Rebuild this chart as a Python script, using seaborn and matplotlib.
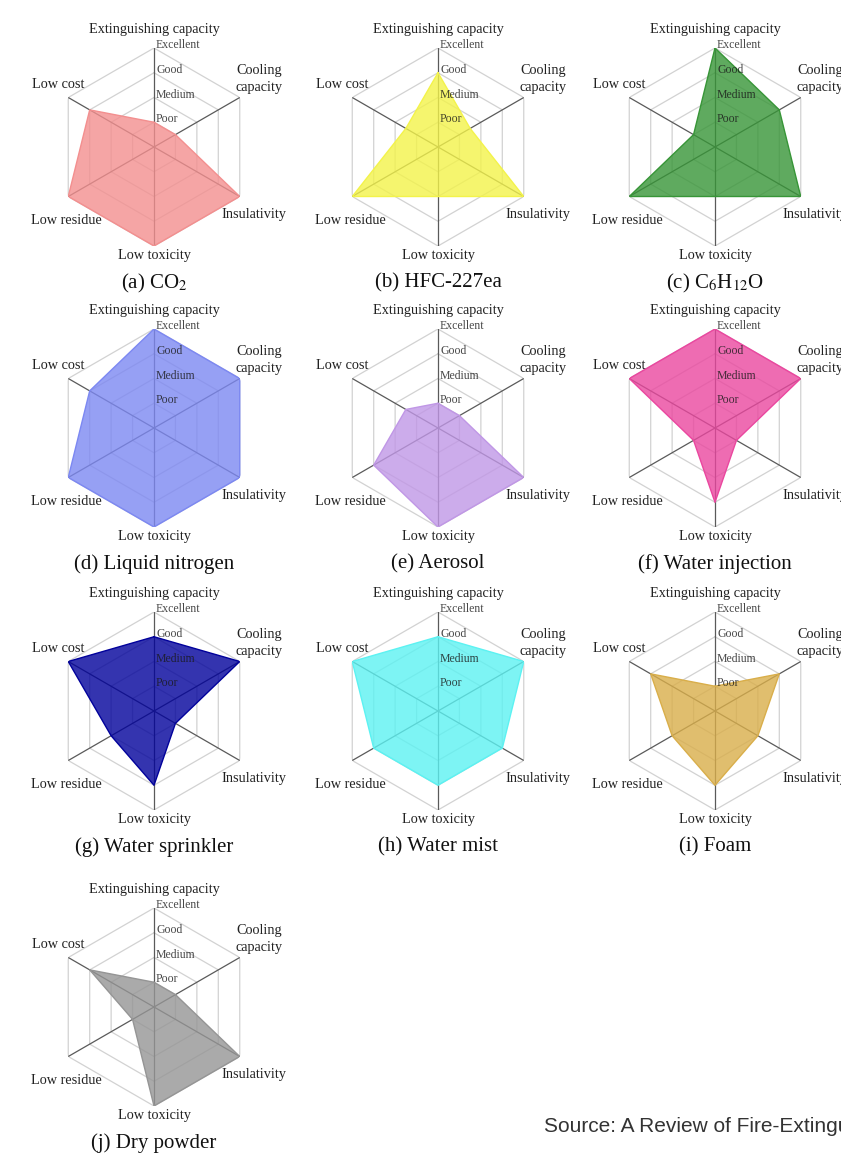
import numpy as np
import pandas as pd
import matplotlib
matplotlib.use("Agg")
import matplotlib.pyplot as plt
import seaborn as sns

# criteria (clockwise from top) and rating levels
criteria = ["Extinguishing capacity", "Cooling\ncapacity", "Insulativity",
            "Low toxicity", "Low residue", "Low cost"]
levels = ["Poor", "Medium", "Good", "Excellent"]

# ratings 1=Poor ... 4=Excellent, same order as criteria
co2 = [1, 1, 4, 4, 4, 3]
hfc227ea = [3, 1.5, 4, 2, 4, 1.5]
c6h12o = [4, 3, 4, 2, 4, 1]
liquid_nitrogen = [4, 4, 4, 4, 4, 3]
aerosol = [1, 1, 4, 4, 3, 1.5]
water_injection = [4, 4, 1, 3, 1, 4]
water_sprinkler = [3, 4, 1, 3, 2, 4]
water_mist = [3, 4, 3, 3, 3, 4]
foam = [1, 3, 2, 3, 2, 3]
dry_powder = [1, 1, 4, 4, 1, 3]

titles = ["(a) CO$_2$", "(b) HFC-227ea", "(c) C$_6$H$_{12}$O", "(d) Liquid nitrogen",
          "(e) Aerosol", "(f) Water injection", "(g) Water sprinkler", "(h) Water mist",
          "(i) Foam", "(j) Dry powder"]
series = [co2, hfc227ea, c6h12o, liquid_nitrogen, aerosol, water_injection,
          water_sprinkler, water_mist, foam, dry_powder]
colors = ["#F38F8F", "#F3F34A", "#379537", "#7C88F2", "#C097E6", "#EA479F",
          "#01019B", "#5CF2F2", "#D9AE4A", "#959595"]

sns.set_theme(style="white")
plt.rcParams["font.family"] = ["Liberation Serif", "DejaVu Serif"]
plt.rcParams["mathtext.fontset"] = "stix"

W, H = 841, 1155
fig = plt.figure(figsize=(W / 100, H / 100), dpi=100)

col_x = [154, 438, 715]
row_y = [147, 428, 711, 1007]
R = 99  # px for r=4

theta = np.deg2rad(np.arange(6) * 60)
theta_c = np.append(theta, theta[0])

# label positions (angle deg, radius) around each chart
label_pos = [(0, 4.75), (57, 5.05), (124, 4.85), (180, 4.38), (230, 4.6), (303, 4.63)]

for i, (vals, title, col) in enumerate(zip(series, titles, colors)):
    cx = col_x[i % 3]
    cy = row_y[i // 3]
    ax = fig.add_axes([(cx - R) / W, 1 - (cy + R) / H, 2 * R / W, 2 * R / H],
                      projection="polar")
    ax.set_theta_zero_location("N")
    ax.set_theta_direction(-1)
    ax.set_ylim(0, 4)
    ax.grid(False)
    ax.set_xticks([])
    ax.set_yticks([])
    ax.spines["polar"].set_visible(False)
    ax.patch.set_alpha(0)

    # hexagon rings
    for lv in range(1, 5):
        ax.plot(theta_c, [lv] * 7, color="#d2d2d2", lw=0.9, zorder=1)
    # spokes
    for t in theta:
        ax.plot([t, t], [0, 4], color="#5a5a5a", lw=0.9, zorder=2)

    df = pd.DataFrame({"theta": theta_c, "score": vals + [vals[0]]})
    ax.fill(df["theta"], df["score"], color=col, alpha=0.8, lw=0, zorder=3)
    sns.lineplot(data=df, x="theta", y="score", sort=False, estimator=None,
                 ax=ax, color=col, lw=1.0, zorder=4)
    ax.set_xlabel("")
    ax.set_ylabel("")

    # level names along the top axis
    for lv, name in enumerate(levels, start=1):
        ax.annotate(name, xy=(0, lv), xytext=(1.5, 2), textcoords="offset points",
                    fontsize=8.5, color="#1a1a1a", alpha=0.8, ha="left", va="center",
                    zorder=5, annotation_clip=False)

    for (ang, rr), name in zip(label_pos, criteria):
        ax.text(np.deg2rad(ang), rr, name, fontsize=10.3, color="#222222",
                ha="center", va="center", linespacing=1.35, zorder=6, clip_on=False)

    ax.text(np.pi, 5.5, title, fontsize=15, color="#111111", ha="center",
            va="center", clip_on=False)

fig.text(544 / W, 1 - 1127 / H, "Source: A Review of Fire-Extinguishing Agents",
         fontsize=15, color="#333333", va="center", ha="left",
         family=["Liberation Sans", "DejaVu Sans"])

fig.savefig("out.png", dpi=100)
